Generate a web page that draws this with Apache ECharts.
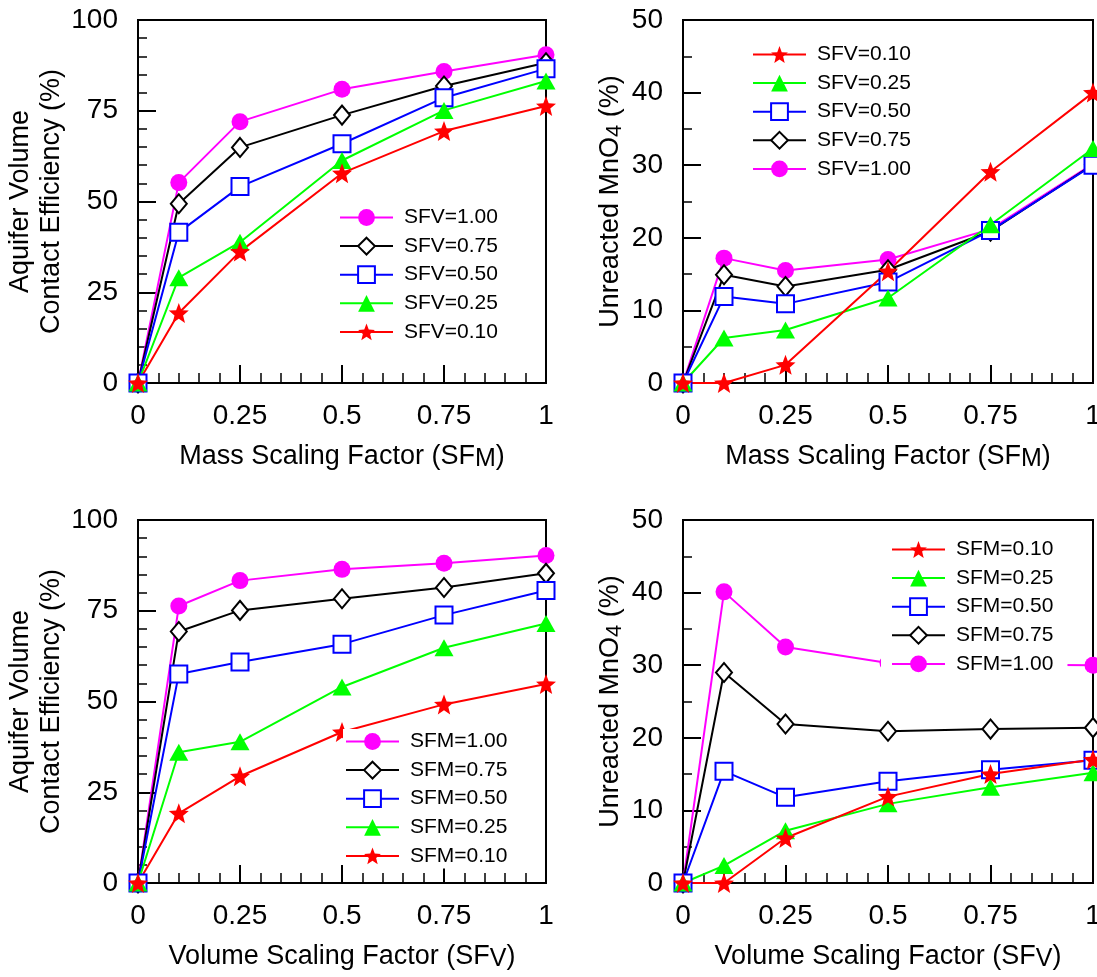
<!DOCTYPE html>
<html><head><meta charset="utf-8">
<script src="https://cdn.jsdelivr.net/npm/echarts@6/dist/echarts.min.js"></script>
<style>html,body{margin:0;padding:0;background:#fff}#c{width:1097px;height:977px}</style>
</head><body><div id="c"></div>
<script>
// ---------- data ----------
const xValues = [0, 0.1, 0.25, 0.5, 0.75, 1];
const xTicks = [0, 0.25, 0.5, 0.75, 1];
const xTickLabels = ['0', '0.25', '0.5', '0.75', '1'];
const effTicks = [0, 25, 50, 75, 100];
const effTickLabels = ['0', '25', '50', '75', '100'];
const unTicks = [0, 10, 20, 30, 40, 50];
const unTickLabels = ['0', '10', '20', '30', '40', '50'];

// Panel A: contact efficiency vs mass scaling factor
const effM_SFV100 = [0, 55.2, 72.0, 80.9, 85.8, 90.4];
const effM_SFV075 = [0, 49.4, 64.9, 73.8, 81.8, 88.2];
const effM_SFV050 = [0, 41.5, 54.1, 65.9, 78.6, 86.6];
const effM_SFV025 = [0, 29.0, 38.8, 61.3, 75.1, 83.2];
const effM_SFV010 = [0, 19.3, 36.2, 57.8, 69.4, 76.3];

// Panel B: unreacted MnO4 vs mass scaling factor
const unM_SFV010 = [0, 0, 2.5, 15.4, 29.1, 40.0];
const unM_SFV025 = [0, 6.2, 7.3, 11.7, 21.8, 32.3];
const unM_SFV050 = [0, 11.9, 10.9, 13.9, 21.0, 30.0];
const unM_SFV075 = [0, 14.9, 13.3, 15.6, 20.9, 30.1];
const unM_SFV100 = [0, 17.2, 15.5, 17.0, 21.2, 30.2];

// Panel C: contact efficiency vs volume scaling factor
const effV_SFM100 = [0, 76.3, 83.3, 86.4, 88.1, 90.2];
const effV_SFM075 = [0, 69.3, 75.1, 78.3, 81.4, 85.3];
const effV_SFM050 = [0, 57.6, 60.9, 65.8, 73.8, 80.6];
const effV_SFM025 = [0, 36.0, 38.9, 54.0, 64.8, 71.5];
const effV_SFM010 = [0, 19.2, 29.4, 41.6, 49.2, 54.8];

// Panel D: unreacted MnO4 vs volume scaling factor
const unV_SFM010 = [0, 0, 6.2, 11.9, 15.0, 17.0];
const unV_SFM025 = [0, 2.4, 7.2, 10.9, 13.2, 15.2];
const unV_SFM050 = [0, 15.4, 11.8, 14.0, 15.6, 16.9];
const unV_SFM075 = [0, 29.0, 21.9, 20.9, 21.2, 21.4];
const unV_SFM100 = [0, 40.1, 32.5, 30.3, 30.1, 30.0];

const levels = ['1.00', '0.75', '0.50', '0.25', '0.10'];

// ---------- styles ----------
const FONT = '"Liberation Sans", Arial, sans-serif';
const STAR = 'path://M0,-10L2.53,-3.48L9.51,-3.09L4.09,1.33L5.88,8.09L0,4.3L-5.88,8.09L-4.09,1.33L-9.51,-3.09L-2.53,-3.48Z';
const levelStyle = {
  '1.00': { color: '#FF00FF', symbol: 'circle', size: 17 },
  '0.75': { color: '#000000', symbol: 'emptyDiamond', size: [16, 19] },
  '0.50': { color: '#0000FF', symbol: 'emptyRect', size: 17 },
  '0.25': { color: '#00FF00', symbol: 'triangle', size: [19, 17] },
  '0.10': { color: '#FF0000', symbol: STAR, size: 20 }
};

const grids = [
  { left: 138, top: 20, width: 408, height: 363 },
  { left: 683, top: 20, width: 410, height: 363 },
  { left: 138, top: 520, width: 408, height: 363 },
  { left: 683, top: 520, width: 410, height: 363 }
];

function fmt(ticks, labels) {
  return v => { const i = ticks.findIndex(t => Math.abs(t - v) < 1e-9); return i >= 0 ? labels[i] : ''; };
}

function xAxisCfg(gi, name) {
  return {
    type: 'value', gridIndex: gi, min: 0, max: 1, interval: 0.25,
    name: name, nameLocation: 'middle', nameGap: 59,
    nameTextStyle: {
      fontSize: 27, color: '#000', fontFamily: FONT, lineHeight: 30,
      rich: { sub: { fontSize: 25, lineHeight: 14, verticalAlign: 'bottom', color: '#000', fontFamily: FONT } }
    },
    axisLine: { show: true, lineStyle: { color: '#000', width: 2 } },
    axisTick: { show: true, inside: true, length: 18, lineStyle: { color: '#000', width: 2 } },
    minorTick: { show: true, splitNumber: 5, length: 10, lineStyle: { color: '#000', width: 1.5 } },
    axisLabel: { fontSize: 28, color: '#000', fontFamily: FONT, margin: 19, formatter: fmt(xTicks, xTickLabels) },
    splitLine: { show: false }, minorSplitLine: { show: false }
  };
}
function yAxisCfg(gi, max, interval, minorSplit, ticks, labels, name, gap, lh) {
  return {
    type: 'value', gridIndex: gi, min: 0, max: max, interval: interval,
    name: name, nameLocation: 'middle', nameGap: gap, nameRotate: 90,
    nameTextStyle: {
      fontSize: 27, color: '#000', fontFamily: FONT, lineHeight: lh,
      rich: { sub: { fontSize: 22, lineHeight: 12, verticalAlign: 'bottom', color: '#000', fontFamily: FONT } }
    },
    axisLine: { show: true, lineStyle: { color: '#000', width: 2 } },
    axisTick: { show: true, inside: true, length: 18, lineStyle: { color: '#000', width: 2 } },
    minorTick: { show: true, splitNumber: minorSplit, length: 9, lineStyle: { color: '#000', width: 1.5 } },
    axisLabel: { fontSize: 28, color: '#000', fontFamily: FONT, margin: 20, formatter: fmt(ticks, labels) },
    splitLine: { show: false }, minorSplitLine: { show: false }
  };
}

function makeSeries(gi, prefix, arrays) {
  return levels.map((lv, k) => {
    const st = levelStyle[lv];
    return {
      type: 'line', name: prefix + '=' + lv, xAxisIndex: gi, yAxisIndex: gi,
      data: xValues.map((x, i) => [x, arrays[k][i]]),
      symbol: st.symbol, symbolSize: st.size, showAllSymbol: true, clip: false,
      lineStyle: { width: 2, color: st.color },
      itemStyle: { color: st.color },
      emphasis: { disabled: true },
      animation: false
    };
  });
}

function legendCfg(names, left, top, padding) {
  return {
    data: names, orient: 'vertical', left: left, top: top,
    itemWidth: 53, itemHeight: 21, itemGap: 7.6,
    backgroundColor: '#fff', padding: padding, selectedMode: false,
    textStyle: { fontSize: 21, lineHeight: 21, color: '#000', fontFamily: FONT, padding: [0, 0, 0, 6] }
  };
}

const series = [].concat(
  makeSeries(0, 'SFV', [effM_SFV100, effM_SFV075, effM_SFV050, effM_SFV025, effM_SFV010]),
  makeSeries(1, 'SFV', [unM_SFV100, unM_SFV075, unM_SFV050, unM_SFV025, unM_SFV010]),
  makeSeries(2, 'SFM', [effV_SFM100, effV_SFM075, effV_SFM050, effV_SFM025, effV_SFM010]),
  makeSeries(3, 'SFM', [unV_SFM100, unV_SFM075, unV_SFM050, unV_SFM025, unV_SFM010])
);

const option = {
  animation: false,
  backgroundColor: '#fff',
  textStyle: { fontFamily: FONT },
  grid: grids.map(g => Object.assign({ show: true, borderColor: '#000', borderWidth: 2, backgroundColor: 'transparent', containLabel: false, outerBoundsMode: 'none' }, g)),
  xAxis: [
    xAxisCfg(0, 'Mass Scaling Factor (SF{sub|M})'),
    xAxisCfg(1, 'Mass Scaling Factor (SF{sub|M})'),
    xAxisCfg(2, 'Volume Scaling Factor (SF{sub|V})'),
    xAxisCfg(3, 'Volume Scaling Factor (SF{sub|V})')
  ],
  yAxis: [
    yAxisCfg(0, 100, 25, 5, effTicks, effTickLabels, 'Aquifer Volume\nContact Efficiency (%)', 69, 31),
    yAxisCfg(1, 50, 10, 2, unTicks, unTickLabels, 'Unreacted MnO{sub|4} (%)', 57, 30),
    yAxisCfg(2, 100, 25, 5, effTicks, effTickLabels, 'Aquifer Volume\nContact Efficiency (%)', 69, 31),
    yAxisCfg(3, 50, 10, 2, unTicks, unTickLabels, 'Unreacted MnO{sub|4} (%)', 57, 30)
  ],
  legend: [
    legendCfg(['SFV=1.00', 'SFV=0.75', 'SFV=0.50', 'SFV=0.25', 'SFV=0.10'], 337, 205, [2, 6, 2, 2]),
    legendCfg(['SFV=0.10', 'SFV=0.25', 'SFV=0.50', 'SFV=0.75', 'SFV=1.00'], 750, 42, [2, 6, 2, 2]),
    legendCfg(['SFM=1.00', 'SFM=0.75', 'SFM=0.50', 'SFM=0.25', 'SFM=0.10'], 343, 729, [2, 6, 2, 2]),
    legendCfg(['SFM=0.10', 'SFM=0.25', 'SFM=0.50', 'SFM=0.75', 'SFM=1.00'], 881, 535, [4, 14, 4, 10])
  ],
  series: series
};

const chart = echarts.init(document.getElementById('c'), null, { renderer: 'canvas' });
chart.setOption(option);
</script>
</body></html>
